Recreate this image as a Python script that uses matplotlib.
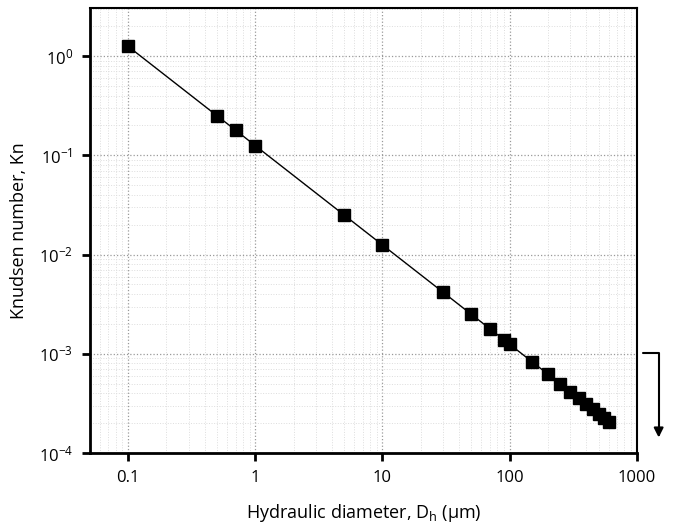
import math
import matplotlib
matplotlib.use('Agg')
import matplotlib.pyplot as plt
from matplotlib.ticker import FuncFormatter, LogLocator, NullFormatter

plt.rcParams['font.family'] = ['Open Sans', 'DejaVu Sans']
plt.rcParams['mathtext.fontset'] = 'custom'
plt.rcParams['mathtext.rm'] = 'Open Sans'
plt.rcParams['mathtext.it'] = 'Open Sans:italic'

# hydraulic diameter (um) and Knudsen number
diameter = [0.1, 0.5, 0.7, 1, 5, 10, 30, 50, 70, 90, 100, 150, 200, 250,
            300, 350, 400, 450, 500, 550, 600]
knudsen = [1.25, 0.25, 0.179, 0.125, 0.025, 0.0125, 0.00417, 0.0025, 0.00179,
           0.00139, 0.00125, 0.000833, 0.000625, 0.0005, 0.000417, 0.000357,
           0.000313, 0.000278, 0.00025, 0.000227, 0.000208]

xticks = [0.1, 1, 10, 100, 1000]
xticklabels = ['0.1', '1', '10', '100', '1000']

fig = plt.figure(figsize=(6.76, 5.30), dpi=100)
ax = fig.add_axes([0.133, 0.145, 0.809, 0.840])

ax.plot(diameter, knudsen, '-', color='black', lw=1.0, marker='s',
        ms=8.5, mfc='black', mec='black', zorder=3)

ax.set_xscale('log')
ax.set_yscale('log')
ax.set_xlim(0.05, 1000)
ax.set_ylim(1e-4, 3.05)

ax.set_xticks(xticks)
ax.set_xticklabels(xticklabels)
ax.xaxis.set_minor_locator(LogLocator(base=10, subs=range(2, 10), numticks=20))
ax.xaxis.set_minor_formatter(NullFormatter())
ax.yaxis.set_major_locator(LogLocator(base=10, numticks=10))
ax.yaxis.set_minor_locator(LogLocator(base=10, subs=range(2, 10), numticks=20))
ax.yaxis.set_minor_formatter(NullFormatter())
ax.yaxis.set_major_formatter(FuncFormatter(
    lambda v, p: r'$\mathregular{10^{%d}}$' % round(math.log10(v))))

ax.grid(True, which='major', ls=':', color='#999999', lw=0.9)
ax.grid(True, which='minor', ls=':', color='#dddddd', lw=0.7)
ax.set_axisbelow(True)

ax.tick_params(which='major', direction='out', length=6, width=2,
               labelsize=12, top=False, right=False, pad=6)
ax.tick_params(which='minor', length=0)
for side in ['left', 'bottom']:
    ax.spines[side].set_linewidth(2)
for side in ['top', 'right']:
    ax.spines[side].set_linewidth(1.5)

ax.set_xlabel(r'Hydraulic diameter, D$_\mathregular{h}$ ($\mathregular{\mu}$m)',
              fontsize=13, labelpad=12)
ax.set_ylabel('Knudsen number, Kn', fontsize=13, labelpad=8)

# bent arrow on the right side
ax.annotate('', xy=(1.040, 0.035), xytext=(1.011, 0.225),
            xycoords='axes fraction', textcoords='axes fraction',
            arrowprops=dict(arrowstyle='-|>', color='black', lw=1.5,
                            connectionstyle='angle,angleA=0,angleB=90,rad=0',
                            mutation_scale=14, shrinkA=0, shrinkB=0),
            annotation_clip=False)

fig.savefig('out.png', dpi=100)
